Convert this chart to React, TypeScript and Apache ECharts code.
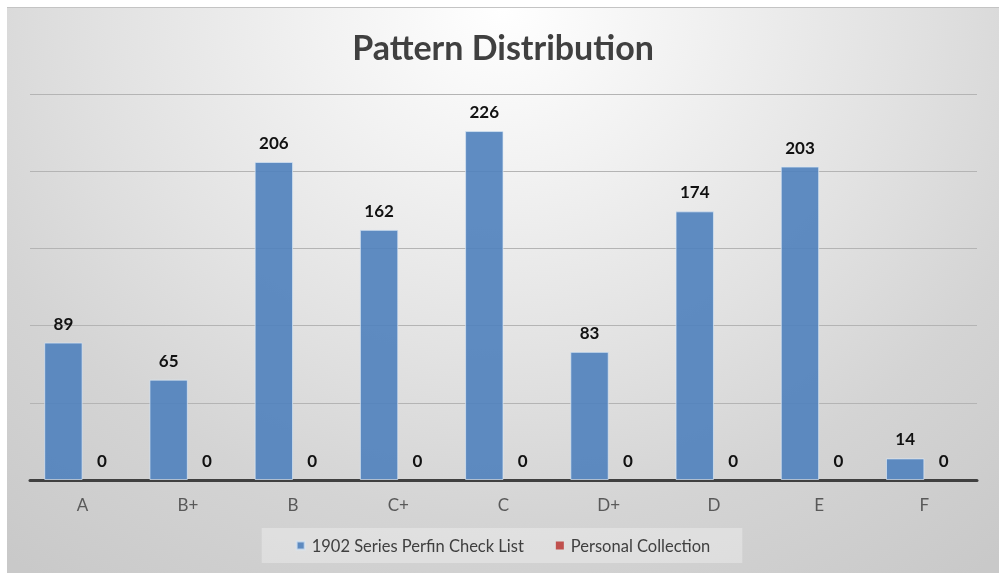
import React, { useEffect, useRef } from "react";
import * as echarts from "echarts";

const categories = ["A", "B+", "B", "C+", "C", "D+", "D", "E", "F"];
const checkList = [89, 65, 206, 162, 226, 83, 174, 203, 14];
const personal = [0, 0, 0, 0, 0, 0, 0, 0, 0];
const seriesNames = ["1902 Series Perfin Check List", "Personal Collection"];
const titleText = "Pattern Distribution";

export default function App() {
  const ref = useRef<HTMLDivElement>(null);
  useEffect(() => {
    if (!ref.current) return;
    const chart = echarts.init(ref.current, null, { renderer: "svg" });
    const font = "Lato, 'Open Sans', sans-serif";
    const labelStyle = {
      show: true,
      position: "top",
      distance: 11,
      color: "#111",
      fontWeight: "bold",
      fontSize: 17,
      fontFamily: font,
    };
    chart.setOption({
      animation: false,
      backgroundColor: "transparent",
      title: {
        text: titleText,
        left: "center",
        top: 21,
        padding: 0,
        textStyle: { color: "#404040", fontSize: 34, fontWeight: "bold", fontFamily: font },
      },
      grid: { left: 23, right: 22, top: 86, bottom: 93, containLabel: false },
      legend: {
        bottom: 10,
        left: "center",
        data: seriesNames,
        icon: "rect",
        itemWidth: 8,
        itemHeight: 8,
        itemGap: 32,
        padding: [9, 32, 9, 34],
        backgroundColor: "rgba(255,255,255,0.3)",
        textStyle: { color: "#404040", fontSize: 16.5, fontFamily: font, padding: [0, 0, 0, 2] },
      },
      xAxis: {
        type: "category",
        data: categories,
        axisTick: { show: false },
        axisLine: { lineStyle: { color: "#404040", width: 3 } },
        axisLabel: { color: "#595959", fontSize: 17, fontFamily: font, margin: 16 },
      },
      yAxis: {
        type: "value",
        min: 0,
        max: 250,
        interval: 50,
        axisLabel: { show: false },
        axisLine: { show: false },
        axisTick: { show: false },
        splitLine: { lineStyle: { color: "#b4b4b4", width: 1 } },
      },
      series: [
        {
          name: seriesNames[0],
          type: "bar",
          data: checkList,
          barGap: "0%",
          barCategoryGap: "27%",
          itemStyle: {
            color: "rgba(79,129,189,0.9)",
            borderColor: "rgba(220,232,245,0.7)",
            borderWidth: 1,
          },
          label: labelStyle,
        },
        {
          name: seriesNames[1],
          type: "bar",
          data: personal,
          itemStyle: { color: "#c0504d" },
          label: labelStyle,
        },
      ],
    });
    return () => chart.dispose();
  }, []);
  return (
    <div
      ref={ref}
      style={{
        position: "fixed",
        left: 7,
        top: 7,
        width: 992,
        height: 566,
        borderTop: "1px solid #c4c4c4",
        boxSizing: "border-box",
        background:
          "radial-gradient(ellipse 720px 640px at 50% 0%, #ffffff 0%, #f2f2f2 25%, #e2e2e2 55%, #d4d4d4 80%, #c9c9c9 110%)",
      }}
    />
  );
}
